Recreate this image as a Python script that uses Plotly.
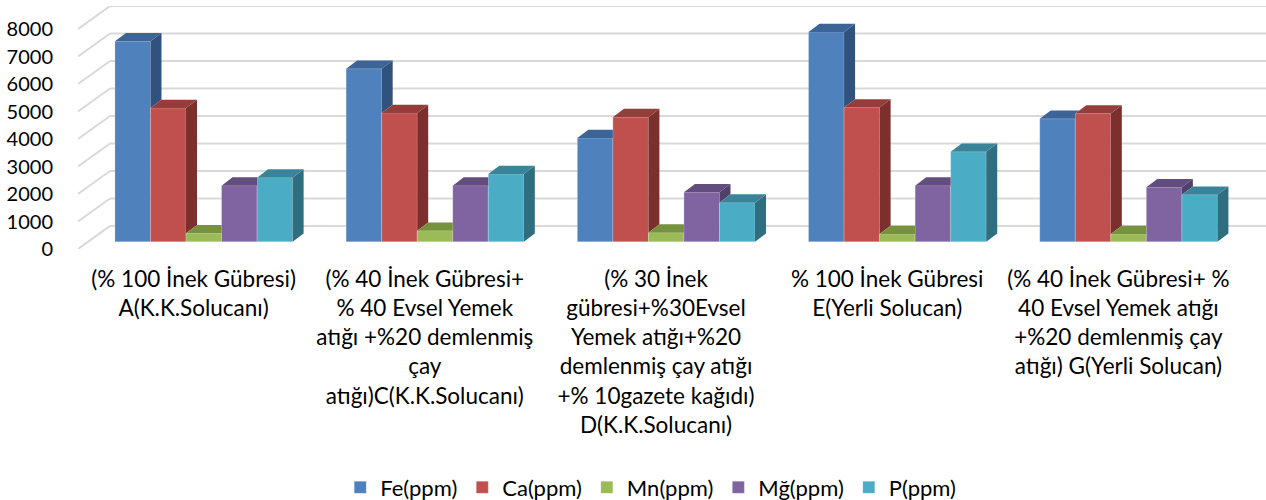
import plotly.graph_objects as go

# Treatment groups (x-axis) and nutrient series
categories = [
    "(% 100 İnek Gübresi)<br>A(K.K.Solucanı)",
    "(% 40 İnek Gübresi+<br>% 40 Evsel Yemek<br>atığı +%20 demlenmiş<br>çay<br>atığı)C(K.K.Solucanı)",
    "(% 30 İnek<br>gübresi+%30Evsel<br>Yemek atığı+%20<br>demlenmiş çay atığı<br>+% 10gazete kağıdı)<br>D(K.K.Solucanı)",
    "% 100 İnek Gübresi<br>E(Yerli Solucan)",
    "(% 40 İnek Gübresi+ %<br>40 Evsel Yemek atığı<br>+%20 demlenmiş çay<br>atığı) G(Yerli Solucan)",
]
series_names = ["Fe(ppm)", "Ca(ppm)", "Mn(ppm)", "Mğ(ppm)", "P(ppm)"]
fe = [7290, 6290, 3770, 7630, 4470]
ca = [4860, 4680, 4530, 4880, 4660]
mn = [310, 400, 330, 280, 280]
mg = [2040, 2040, 1800, 2040, 1980]
p = [2330, 2460, 1420, 3270, 1710]
y_ticks = [0, 1000, 2000, 3000, 4000, 5000, 6000, 7000, 8000]

series_values = [fe, ca, mn, mg, p]
front_colors = ["#4F81BD", "#C0504D", "#9BBB59", "#8064A2", "#4BACC6"]
top_colors = ["#3C6496", "#953D3B", "#76923C", "#634C7E", "#3A8499"]
side_colors = ["#31527C", "#7C302E", "#617A31", "#51406A", "#2F6E7E"]

# Pseudo-3D geometry (data units)
wall_dx, wall_dy = 0.1384, 839      # depth of the side wall
bar_base = 265                      # front face of bars sits part way into the depth
bar_w = 0.1537                      # width of one column
group_shift = 0.044                 # columns pushed back relative to the front plane
bar_dx, bar_dy = 0.0476, 302        # visible depth of each column
grid_color = "#D9D9D9"

x_idx = list(range(len(categories)))
n_series = len(series_values)
group_w = bar_w * n_series

fig = go.Figure()

# Front faces
for k, (name, vals) in enumerate(zip(series_names, series_values)):
    fig.add_trace(go.Bar(
        x=x_idx, y=vals, base=bar_base, name=name,
        width=bar_w, offset=group_shift - group_w / 2 + k * bar_w,
        marker=dict(color=front_colors[k], line=dict(width=0.6, color="rgba(255,255,255,0.35)")),
    ))

# Side and top faces, clipped where the next column hides them
for i in x_idx:
    for k in range(n_series):
        v = series_values[k][i]
        xl = i + group_shift - group_w / 2 + k * bar_w
        xr = xl + bar_w
        t = bar_base + v
        t_next = bar_base + series_values[k + 1][i] if k + 1 < n_series else bar_base
        b = bar_base

        if t > t_next:
            lo = max(b, t_next)
            fig.add_trace(go.Scatter(
                x=[xr, xr, xr + bar_dx, xr + bar_dx, xr],
                y=[lo, t, t + bar_dy, lo + bar_dy, lo],
                mode="lines", fill="toself", fillcolor=side_colors[k],
                line=dict(width=0, color=side_colors[k]),
                showlegend=False, hoverinfo="skip"))

        if t_next <= t:
            tx = [xl, xr, xr + bar_dx, xl + bar_dx, xl]
            ty = [t, t, t + bar_dy, t + bar_dy, t]
        elif t_next - t < bar_dy:
            s = 1 - (t_next - t) / bar_dy
            tx = [xl, xr, xr, xr + bar_dx * s, xl + bar_dx, xl]
            ty = [t, t, t_next, t + bar_dy, t + bar_dy, t]
        else:
            tx = [xl, xr, xr, xl + bar_dx, xl]
            ty = [t, t, t + bar_dy, t + bar_dy, t]
        fig.add_trace(go.Scatter(
            x=tx, y=ty, mode="lines", fill="toself", fillcolor=top_colors[k],
            line=dict(width=0, color=top_colors[k]),
            showlegend=False, hoverinfo="skip"))

# Walls: diagonal lines on the side wall, horizontal lines on the back wall
x_left = -0.5
x_right = len(categories) - 0.5 + wall_dx
shapes = []
for v in y_ticks:
    shapes.append(dict(type="line", xref="x", yref="y", layer="below",
                       x0=x_left, y0=v, x1=x_left + wall_dx, y1=v + wall_dy,
                       line=dict(color=grid_color, width=2)))
    shapes.append(dict(type="line", xref="x", yref="y", layer="below",
                       x0=x_left + wall_dx, y0=v + wall_dy, x1=x_right, y1=v + wall_dy,
                       line=dict(color=grid_color, width=2)))

font_family = "Lato, 'Open Sans', sans-serif"

fig.update_layout(
    width=1266, height=500,
    margin=dict(l=78, r=0, t=6, b=251),
    paper_bgcolor="white", plot_bgcolor="white",
    barmode="overlay",
    shapes=shapes,
    font=dict(family=font_family, size=22, color="#000000"),
    xaxis=dict(range=[x_left, x_right], tickvals=x_idx, ticktext=categories,
               showgrid=False, zeroline=False, showline=False, ticks="",
               ticklabelstandoff=14, tickangle=0,
               tickfont=dict(size=22.5)),
    yaxis=dict(range=[0, y_ticks[-1] + wall_dy], tickvals=y_ticks,
               showgrid=False, zeroline=False, showline=False, ticks="",
               ticklabelstandoff=24, tickfont=dict(size=20)),
    legend=dict(orientation="h", xref="container", yref="container",
                x=0.514, y=0.025, xanchor="center", yanchor="middle",
                font=dict(size=22), itemwidth=30, traceorder="normal"),
)

fig.write_html("out.html")
